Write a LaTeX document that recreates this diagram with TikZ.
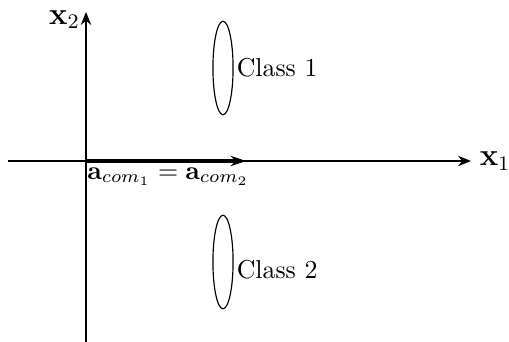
\documentclass[tikz,border=0pt]{standalone}
\usetikzlibrary{positioning, shapes.geometric, arrows.meta}
\tikzset{
  axis/.style={-{Stealth[length=5pt, width=4pt]}, line width=0.8pt},
  axlabel/.style={font=\large, inner sep=1pt},
  classell/.style={draw, ellipse, line width=0.45pt, minimum width=7.8pt, minimum height=36.2pt, inner sep=0pt},
}
\begin{document}
\begin{tikzpicture}[x=0.0136cm, y=-0.0136cm, line cap=butt]
	\useasboundingbox (0,0) rectangle (509,342);
	% 1. Truc toa do
	\coordinate (O) at (86,161);
	\coordinate (xl) at (8,161);
	\coordinate (xr) at (471,161);
	\coordinate (yb) at (86,342);
	\coordinate (yt) at (86,12);
	\draw[axis] (xl) -- (xr) node[axlabel, right=2pt] (x1) {$\mathbf{x}_1$};
	\draw[axis] (yb) -- (yt) node[axlabel, left=1pt, yshift=-3pt] (x2) {$\mathbf{x}_2$};
	
	% 2. Vecto a_com
	\coordinate (acom) at (246,161);
	\draw[-{Stealth[length=6pt, width=4pt]}, line width=1.6pt] (O) -- (acom);
	\node[below right=-1pt and -3pt of O] (lab) {$\mathbf{a}_{com_1}=\mathbf{a}_{com_2}$};
	
	% 3. Hai lop
	\node[classell] (c1) at (223,68) {};
	\node[classell] (c2) at (223,262) {};
	\node[right=0pt of c1, inner sep=1pt] (t1) {Class 1};
	\node[right=0pt of c2, inner sep=1pt, yshift=-3pt] (t2) {Class 2};
\end{tikzpicture}
\end{document}
